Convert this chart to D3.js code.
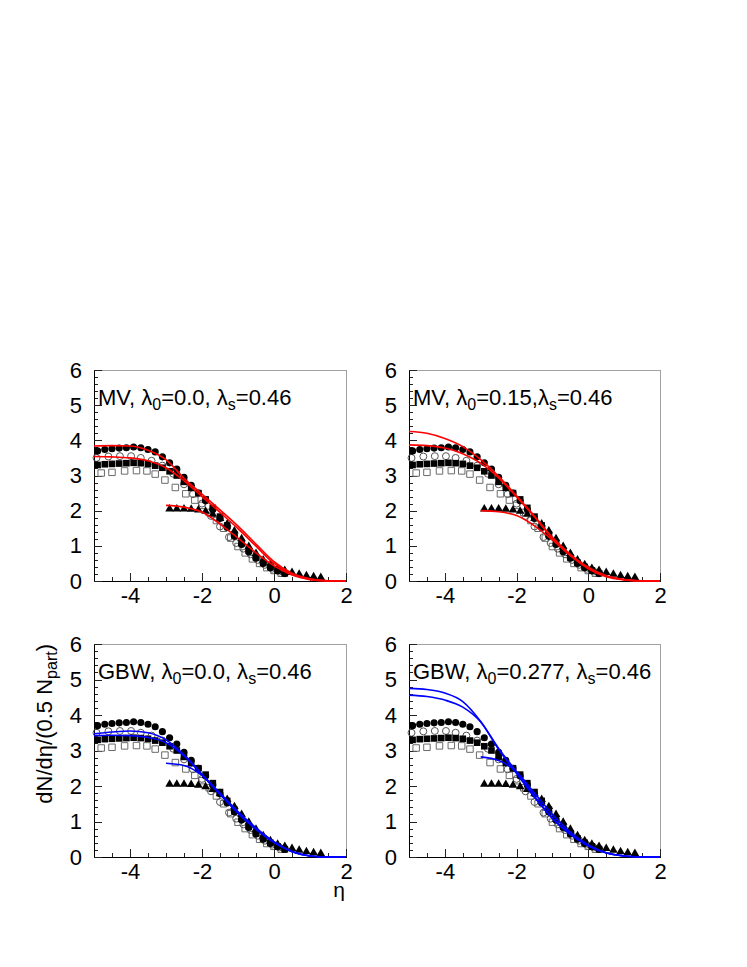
<!DOCTYPE html>
<html><head><meta charset="utf-8">
<script src="https://cdn.jsdelivr.net/npm/d3@7/dist/d3.min.js"></script>
<style>body{margin:0;background:#fff}</style>
</head><body>
<svg id="c" width="747" height="967" xmlns="http://www.w3.org/2000/svg"></svg>
<script>
// ---------------- data ----------------
const xTickValues = [-4, -2, 0, 2];
const xTickLabels = ["-4", "-2", "0", "2"];
const yTickValues = [0, 1, 2, 3, 4, 5, 6];
const yTickLabels = ["0", "1", "2", "3", "4", "5", "6"];

// filled circles / filled squares (same eta grid)
const etaFilled = [-4.9,-4.7,-4.5,-4.3,-4.1,-3.9,-3.7,-3.5,-3.3,-3.1,-2.9,-2.7,-2.5,-2.3,-2.1,-1.9,-1.7,-1.5,-1.3,-1.1,-0.9,-0.7,-0.5,-0.3,-0.1,0.1,0.3];
const filledCircle = [3.70,3.74,3.76,3.78,3.79,3.81,3.79,3.74,3.67,3.53,3.36,3.18,2.95,2.72,2.50,2.28,2.03,1.78,1.52,1.27,1.04,0.83,0.65,0.50,0.38,0.29,0.21];
const filledSquare = [3.30,3.32,3.33,3.34,3.35,3.36,3.35,3.33,3.28,3.22,3.12,3.00,2.82,2.65,2.50,2.32,2.08,1.83,1.58,1.33,1.08,0.86,0.67,0.52,0.40,0.30,0.22];

const etaOpenCircle = [-4.93,-4.6,-4.28,-3.97,-3.7,-3.4,-3.1,-2.8,-2.5,-2.25,-2.0,-1.75,-1.5,-1.25,-1.05,-0.85,-0.65,-0.45,-0.25,-0.05,0.15];
const openCircle = [3.50,3.54,3.55,3.55,3.50,3.42,3.28,3.05,2.75,2.47,2.20,1.85,1.55,1.25,1.08,0.92,0.76,0.60,0.46,0.35,0.27];

const etaOpenSquare = [-4.8,-4.5,-4.15,-3.82,-3.53,-3.3,-3.03,-2.74,-2.45,-2.2,-2.0,-1.8,-1.6,-1.4,-1.2,-1.0,-0.8,-0.6,-0.4,-0.2,0.0,0.2];
const openSquare = [3.07,3.09,3.13,3.14,3.13,3.04,2.87,2.66,2.48,2.30,2.15,1.95,1.72,1.50,1.22,0.98,0.80,0.63,0.50,0.38,0.30,0.22];

const etaTriangle = [-2.9,-2.7,-2.5,-2.3,-2.1,-1.9,-1.7,-1.5,-1.3,-1.1,-0.9,-0.7,-0.5,-0.3,-0.1,0.1,0.3,0.5,0.7,0.9,1.1,1.3];
const filledTriangle = [2.05,2.05,2.05,2.04,2.02,1.98,1.90,1.78,1.62,1.42,1.20,0.98,0.78,0.60,0.46,0.36,0.30,0.24,0.19,0.15,0.12,0.10];

// model curves
const etaCurve = [-5,-4.5,-4,-3.5,-3,-2.5,-2,-1.5,-1,-0.5,0,0.5,1,1.5,2];
const etaCurveShort = [-3,-2.5,-2,-1.5,-1,-0.5,0,0.5,1,1.5,2];

const mv0_a = [3.84,3.85,3.84,3.72,3.45,2.92,2.47,2.02,1.56,1.05,0.55,0.22,0.06,0.005,0];
const mv0_b = [3.54,3.53,3.50,3.42,3.22,2.85,2.40,1.95,1.49,0.99,0.50,0.20,0.05,0.005,0];
const mv0_c = [2.15,2.10,1.96,1.62,1.22,0.80,0.43,0.17,0.04,0,0];

const mv15_a = [4.25,4.20,4.05,3.82,3.45,2.98,2.42,1.85,1.24,0.76,0.39,0.15,0.04,0.005,0];
const mv15_b = [3.87,3.85,3.78,3.62,3.35,2.93,2.39,1.82,1.21,0.73,0.37,0.14,0.04,0,0];
const mv15_c = [2.00,1.97,1.86,1.57,1.17,0.72,0.35,0.12,0.03,0,0];

const gbw0_a = [3.47,3.52,3.55,3.50,3.30,2.88,2.33,1.78,1.25,0.80,0.42,0.15,0.03,0,0];
const gbw0_b = [3.42,3.43,3.42,3.37,3.22,2.85,2.31,1.76,1.23,0.78,0.41,0.15,0.03,0,0];
const gbw0_c = [2.64,2.58,2.30,1.80,1.28,0.82,0.43,0.16,0.03,0,0];

const gbw277_a = [4.75,4.72,4.62,4.38,3.82,3.06,2.40,1.72,1.10,0.65,0.32,0.12,0.03,0,0];
const gbw277_b = [4.56,4.52,4.42,4.22,3.80,3.03,2.35,1.68,1.08,0.63,0.31,0.11,0.03,0,0];
const gbw277_c = [2.82,2.72,2.40,1.80,1.20,0.70,0.34,0.12,0.03,0,0];

// panel labels: [text, isSubscript]
const panelLabels = [
  [["MV, λ",0],["0",1],["=0.0, λ",0],["s",1],["=0.46",0]],
  [["MV, λ",0],["0",1],["=0.15,λ",0],["s",1],["=0.46",0]],
  [["GBW, λ",0],["0",1],["=0.0, λ",0],["s",1],["=0.46",0]],
  [["GBW, λ",0],["0",1],["=0.277, λ",0],["s",1],["=0.46",0]]
];
const panelCurves = [
  [mv0_a, mv0_b, mv0_c],
  [mv15_a, mv15_b, mv15_c],
  [gbw0_a, gbw0_b, gbw0_c],
  [gbw277_a, gbw277_b, gbw277_c]
];
const panelColors = ["#ff0000", "#ff0000", "#0000ff", "#0000ff"];

// ---------------- layout ----------------
const font = "'Liberation Sans', Arial, Helvetica, sans-serif";
const FS = 22, SFS = 16;
const boxes = [
  {x0:94, x1:346, y0:370, y1:581},
  {x0:409, x1:660, y0:370, y1:581},
  {x0:94, x1:346, y0:644, y1:857},
  {x0:409, x1:660, y0:644, y1:857}
];
const svg = d3.select("#c");
svg.append("rect").attr("width",747).attr("height",967).attr("fill","#fff");

boxes.forEach((b, i) => {
  const x = d3.scaleLinear().domain([-5, 2]).range([b.x0, b.x1]);
  const y = d3.scaleLinear().domain([0, 6]).range([b.y1, b.y0]);
  const g = svg.append("g");

  g.append("rect").attr("x", b.x0).attr("y", b.y0).attr("width", b.x1 - b.x0).attr("height", b.y1 - b.y0)
    .attr("fill", "none").attr("stroke", "#a0a0a0").attr("stroke-width", 1).attr("shape-rendering","crispEdges");

  const gxm = g.append("g").attr("transform", `translate(0,${b.y1})`)
    .call(d3.axisBottom(x).tickValues(d3.range(-4.5, 2.01, 0.5)).tickSize(-4).tickSizeOuter(0).tickFormat(""));
  const gym = g.append("g").attr("transform", `translate(${b.x0},0)`)
    .call(d3.axisLeft(y).tickValues(d3.range(0.2, 6, 0.2)).tickSize(-4).tickSizeOuter(0).tickFormat(""));
  const gx = g.append("g").attr("transform", `translate(0,${b.y1})`)
    .call(d3.axisBottom(x).tickValues(xTickValues).tickSize(-8).tickSizeOuter(0).tickPadding(6)
      .tickFormat((d, k) => xTickLabels[k]));
  const gy = g.append("g").attr("transform", `translate(${b.x0},0)`)
    .call(d3.axisLeft(y).tickValues(yTickValues).tickSize(-8).tickSizeOuter(0).tickPadding(12)
      .tickFormat((d, k) => yTickLabels[k]));
  [gxm, gym, gx, gy].forEach(a => {
    a.selectAll("line").attr("stroke", "#222").attr("shape-rendering","crispEdges");
    a.select(".domain").attr("stroke", "#000").attr("shape-rendering","crispEdges");
    a.selectAll("text").attr("font-family", font).attr("font-size", FS).attr("fill", "#000");
  });

  const sym = (type, size) => d3.symbol().type(type).size(size)();
  const drawMarkers = (etas, vals, type, size, fill, stroke) => {
    g.append("g").selectAll("path").data(vals).join("path")
      .attr("d", sym(type, size))
      .attr("transform", (d, k) => `translate(${x(etas[k])},${y(d)})`)
      .attr("fill", fill).attr("stroke", stroke).attr("stroke-width", 1);
  };
  drawMarkers(etaOpenSquare, openSquare, d3.symbolSquare, 42, "none", "#6a6a6a");
  drawMarkers(etaOpenCircle, openCircle, d3.symbolCircle, 38, "none", "#555");
  drawMarkers(etaFilled, filledSquare, d3.symbolSquare, 44, "#000", "none");
  drawMarkers(etaFilled, filledCircle, d3.symbolCircle, 40, "#000", "none");
  drawMarkers(etaTriangle, filledTriangle, d3.symbolTriangle, 32, "#000", "none");

  const line = (etas) => d3.line().x((d, k) => x(etas[k])).y(d => y(d)).curve(d3.curveMonotoneX);
  const cs = panelCurves[i];
  [[etaCurve, cs[0]], [etaCurve, cs[1]], [etaCurveShort, cs[2]]].forEach(([e, v]) => {
    g.append("path").attr("d", line(e)(v)).attr("fill", "none")
      .attr("stroke", panelColors[i]).attr("stroke-width", 1.6);
  });

  const t = g.append("text").attr("x", b.x0 + 4).attr("y", b.y0 + 35)
    .attr("font-family", font).attr("font-size", FS).attr("fill", "#000");
  let shifted = false;
  panelLabels[i].forEach(([s, sub]) => {
    const ts = t.append("tspan").text(s);
    if (sub && !shifted) { ts.attr("dy", 5).attr("font-size", SFS); shifted = true; }
    else if (!sub && shifted) { ts.attr("dy", -5); shifted = false; }
  });
});

// axis titles
const yt = svg.append("text").attr("transform", "translate(52,644) rotate(-90)")
  .attr("text-anchor", "end").attr("font-family", font).attr("font-size", FS).attr("fill", "#000");
yt.append("tspan").text("dN/dη/(0.5 N");
yt.append("tspan").text("part").attr("dy", 5).attr("font-size", SFS);
yt.append("tspan").text(")").attr("dy", -5);

svg.append("text").attr("x", 345).attr("y", 897).attr("text-anchor", "end")
  .attr("font-family", font).attr("font-size", 21).attr("fill", "#000").text("η");
</script>
</body></html>
